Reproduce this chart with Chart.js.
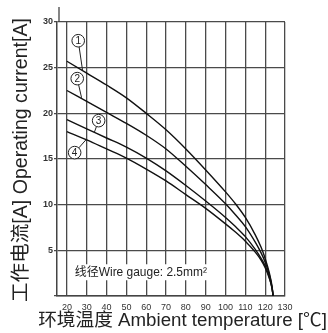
<!DOCTYPE html>
<html>
<head>
<meta charset="utf-8">
<script src="https://cdn.jsdelivr.net/npm/chart.js@4/dist/chart.umd.min.js"></script>
<style>
html,body{margin:0;padding:0;background:#fff;}
#wrap{width:328px;height:333px;}
</style>
</head>
<body>
<div id="wrap"><canvas id="c" width="328" height="333"></canvas></div>
<script>
// ---- data ----
const temps  = [20, 30, 40, 50, 60, 70, 80, 90, 100, 105, 110, 115, 118, 120, 122, 123.5, 124];
const curve1 = [25.7, 24.4, 23.1, 21.7, 20.0, 18.2, 16.1, 13.8, 11.4, 10.1, 8.6, 6.7, 5.3, 4.1, 2.6, 1.0, 0];
const curve2 = [22.5, 21.3, 20.1, 18.9, 17.6, 16.1, 14.2, 12.2, 10.1, 8.9, 7.6, 5.9, 4.7, 3.7, 2.4, 0.9, 0];
const curve3 = [19.3, 18.3, 17.3, 16.3, 15.1, 13.7, 12.1, 10.4, 8.6, 7.6, 6.5, 5.1, 4.1, 3.3, 2.1, 0.8, 0];
const curve4 = [18.0, 17.1, 16.1, 15.1, 13.9, 12.6, 11.1, 9.6, 7.9, 7.0, 6.0, 4.8, 3.9, 3.1, 2.0, 0.8, 0];
const xTicks = [20, 30, 40, 50, 60, 70, 80, 90, 100, 110, 120, 130];
const yTicks = [0, 5, 10, 15, 20, 25, 30];
const curveLabels = ['1', '2', '3', '4'];
// label circle position [temp, current] and leader end [temp, current]
const labelPos   = [[25.7, 27.95], [25.2, 23.8], [36.0, 19.2], [23.9, 15.7]];
const leaderEnd  = [[27.9, 24.7], [27.4, 21.7], [33.8, 17.9], [29.6, 17.1]];
const noteText = '线径Wire gauge: 2.5mm²';
const xTitle = '环境温度 Ambient temperature [℃]';
const yTitle = '工作电流[A] Operating current[A]';

const FONT = '"Liberation Sans", Arial, "Noto Sans CJK SC", sans-serif';

function mk(arr){ return temps.map((t,i)=>({x:t, y:arr[i]})); }
const dsStyle = {borderColor:'#111', borderWidth:1.4, pointRadius:0, fill:false, cubicInterpolationMode:'monotone'};

function fitFont(ctx, text, width, base){
  ctx.font = base + 'px ' + FONT;
  const w = ctx.measureText(text).width;
  return base * width / w;
}

const overlay = {
  id:'overlay',
  afterDatasetsDraw(chart){
    const ctx = chart.ctx, xs = chart.scales.x, ys = chart.scales.y, ca = chart.chartArea;
    ctx.save();
    // axis extension above the top
    ctx.strokeStyle = '#444'; ctx.lineWidth = 1.3;
    ctx.beginPath(); ctx.moveTo(ca.left + 2, ca.top - 15); ctx.lineTo(ca.left + 2, ca.top); ctx.stroke();
    // curve labels
    for (let i = 0; i < curveLabels.length; i++){
      const cx = xs.getPixelForValue(labelPos[i][0]), cy = ys.getPixelForValue(labelPos[i][1]);
      const ex = xs.getPixelForValue(leaderEnd[i][0]), ey = ys.getPixelForValue(leaderEnd[i][1]);
      const r = 6.3;
      const dx = ex - cx, dy = ey - cy, d = Math.hypot(dx, dy);
      ctx.strokeStyle = '#222'; ctx.lineWidth = 1;
      ctx.beginPath(); ctx.moveTo(cx + dx / d * r, cy + dy / d * r); ctx.lineTo(ex, ey); ctx.stroke();
      ctx.fillStyle = '#fff';
      ctx.beginPath(); ctx.arc(cx, cy, r, 0, Math.PI * 2); ctx.fill(); ctx.stroke();
      ctx.fillStyle = '#222'; ctx.font = '10px ' + FONT; ctx.textAlign = 'center'; ctx.textBaseline = 'middle';
      ctx.fillText(curveLabels[i], cx, cy + 0.5);
    }
    // note with white background
    const nx = xs.getPixelForValue(24), ny = ys.getPixelForValue(2.6);
    const fs = fitFont(ctx, noteText, 132, 10);
    ctx.font = fs.toFixed(2) + 'px ' + FONT;
    const tw = ctx.measureText(noteText).width;
    ctx.fillStyle = '#fff';
    ctx.fillRect(nx - 2, ny - 8, tw + 4, 16);
    ctx.fillStyle = '#222'; ctx.textAlign = 'left'; ctx.textBaseline = 'middle';
    ctx.fillText(noteText, nx, ny);
    // axis titles
    ctx.fillStyle = '#222'; ctx.textAlign = 'center'; ctx.textBaseline = 'middle';
    const fx = fitFont(ctx, xTitle, 289, 18);
    ctx.font = fx.toFixed(2) + 'px ' + FONT;
    ctx.fillText(xTitle, 182.5, 321);
    const fy = fitFont(ctx, yTitle, 284, 18);
    ctx.font = fy.toFixed(2) + 'px ' + FONT;
    ctx.translate(22, 160); ctx.rotate(-Math.PI / 2);
    ctx.fillText(yTitle, 0, 0);
    ctx.restore();
  }
};

new Chart(document.getElementById('c'), {
  type:'line',
  data:{datasets:[
    Object.assign({label:'1', data:mk(curve1)}, dsStyle),
    Object.assign({label:'2', data:mk(curve2)}, dsStyle),
    Object.assign({label:'3', data:mk(curve3)}, dsStyle),
    Object.assign({label:'4', data:mk(curve4)}, dsStyle)
  ]},
  options:{
    responsive:false, animation:false, devicePixelRatio:1,
    layout:{padding:{left:0, right:43, top:22, bottom:0}},
    plugins:{legend:{display:false}, tooltip:{enabled:false}},
    scales:{
      x:{type:'linear', min:15, max:130,
        afterBuildTicks(s){ s.ticks = xTicks.map(v=>({value:v})); },
        afterFit(s){ s.height = 37; },
        grid:{color:'#4a4a4a', lineWidth:1.3, drawTicks:false},
        border:{color:'#444', width:1.5},
        ticks:{autoSkip:false, maxRotation:0, padding:6, color:'#333', font:{size:9, family:FONT}}
      },
      y:{type:'linear', min:0, max:30,
        afterBuildTicks(s){ s.ticks = yTicks.map(v=>({value:v})); },
        afterFit(s){ s.width = 57; },
        grid:{color:'#4a4a4a', lineWidth:1.3, tickLength:3},
        border:{color:'#444', width:1.5},
        ticks:{padding:1, color:'#333', font:{size:9, family:FONT, weight:'bold'},
          callback(v){ return v === 0 ? '' : String(v); }}
      }
    }
  },
  plugins:[overlay]
});
</script>
</body>
</html>
